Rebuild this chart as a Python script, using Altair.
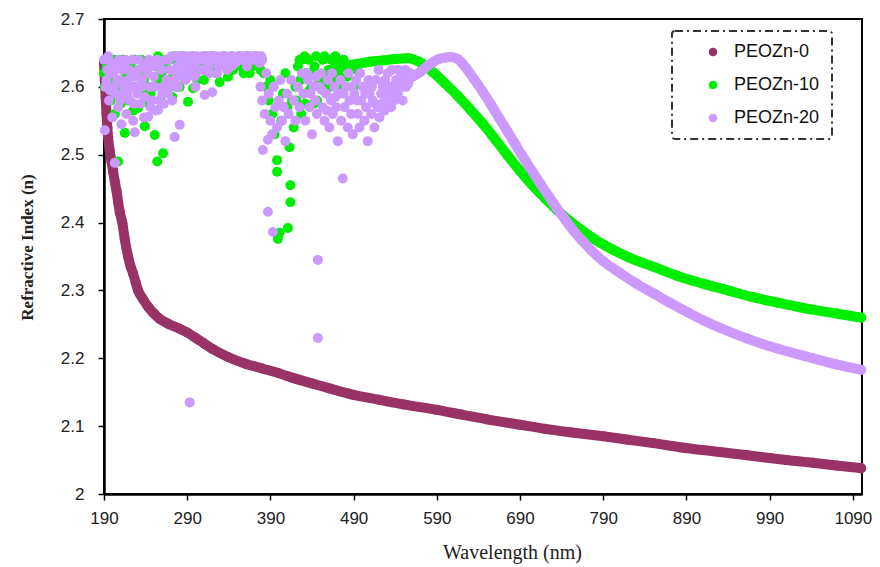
import altair as alt
import pandas as pd

SERIES = ["PEOZn-0", "PEOZn-10", "PEOZn-20"]
COLORS = ["#993366", "#00ee00", "#cc99ff"]

# ---- PEOZn-0 (continuous curve) ----
p0_wl = [190, 191, 192, 193, 194, 195, 197, 199, 201, 203, 205, 207, 209, 212, 215, 219,
         222, 225, 228, 231, 237, 243, 250, 257, 267, 280, 290, 299, 310, 320, 339, 360,
         380, 400, 420, 440, 460, 490, 520, 550, 590, 620, 650, 690, 720, 750, 790, 820,
         850, 882, 930, 963, 990, 1010, 1042, 1070, 1100]
p0_n = [2.635, 2.61, 2.585, 2.56, 2.54, 2.525, 2.505, 2.49, 2.475, 2.46, 2.447, 2.43, 2.415,
        2.40, 2.375, 2.35, 2.335, 2.325, 2.312, 2.30, 2.287, 2.276, 2.266, 2.258, 2.251, 2.244,
        2.238, 2.231, 2.222, 2.214, 2.202, 2.192, 2.185, 2.178, 2.170, 2.163, 2.156, 2.146, 2.139,
        2.132, 2.124, 2.117, 2.110, 2.102, 2.096, 2.091, 2.085, 2.080, 2.075, 2.069, 2.062, 2.057,
        2.053, 2.050, 2.046, 2.042, 2.038]

# ---- PEOZn-10 (continuous part) ----
p10_wl = [465, 480, 495, 510, 525, 540, 555, 570, 585, 600, 615, 630, 645, 660, 675, 690, 705,
          720, 735, 750, 765, 780, 800, 820, 850, 880, 910, 940, 970, 1000, 1040, 1070, 1100]
p10_n = [2.626, 2.631, 2.634, 2.637, 2.639, 2.641, 2.642, 2.636, 2.622, 2.605, 2.587, 2.567,
         2.546, 2.523, 2.499, 2.476, 2.455, 2.436, 2.418, 2.402, 2.388, 2.375, 2.361, 2.349,
         2.335, 2.321, 2.310, 2.300, 2.290, 2.282, 2.272, 2.266, 2.260]

# ---- PEOZn-10 (scattered short-wavelength points) ----
p10_scatter = [
    (190, 2.62), (191, 2.60), (193, 2.63), (196, 2.61), (198, 2.58), (200, 2.63), (203, 2.56),
    (205, 2.61), (207, 2.49), (208, 2.63), (210, 2.575), (212, 2.60), (215, 2.532), (216, 2.62),
    (219, 2.58), (222, 2.63), (225, 2.565), (228, 2.60), (231, 2.569), (233, 2.625), (236, 2.59),
    (239, 2.542), (241, 2.62), (244, 2.575), (247, 2.635), (249, 2.60), (251, 2.529), (254, 2.49),
    (256, 2.61), (258, 2.58), (261, 2.502), (263, 2.63), (266, 2.605), (269, 2.64), (272, 2.585),
    (275, 2.62), (278, 2.64), (281, 2.60), (284, 2.63), (287, 2.64), (291, 2.578), (294, 2.62),
    (297, 2.598), (300, 2.64), (303, 2.625), (306, 2.64), (310, 2.61), (314, 2.64), (318, 2.63),
    (322, 2.64), (325, 2.62), (329, 2.607), (333, 2.64), (337, 2.63), (341, 2.64), (345, 2.625),
    (350, 2.64), (355, 2.63), (360, 2.64), (365, 2.62), (370, 2.64), (375, 2.635), (380, 2.64),
    (195, 2.635), (202, 2.64), (213, 2.64), (218, 2.61), (224, 2.60), (227, 2.64), (235, 2.64),
    (238, 2.61), (243, 2.60), (246, 2.59), (252, 2.63), (255, 2.645), (259, 2.62), (262, 2.64),
    (268, 2.61), (274, 2.645), (277, 2.60), (283, 2.645), (289, 2.615), (292, 2.64), (296, 2.645),
    (302, 2.61), (308, 2.63), (312, 2.645), (316, 2.62), (320, 2.645), (327, 2.64), (335, 2.645),
    (339, 2.615), (343, 2.645), (348, 2.63), (352, 2.645), (358, 2.62), (362, 2.645), (368, 2.63),
    (372, 2.645), (378, 2.625),
    (382, 2.62), (385, 2.60), (388, 2.58), (390, 2.61), (392, 2.56), (395, 2.53), (398, 2.475),
    (398, 2.492), (399, 2.376), (401, 2.385), (403, 2.55), (405, 2.59), (408, 2.62), (410, 2.57),
    (411, 2.392), (413, 2.511), (414, 2.43), (414, 2.455), (416, 2.58), (418, 2.54), (420, 2.60),
    (423, 2.63), (426, 2.61), (428, 2.64), (430, 2.59), (433, 2.62), (436, 2.64), (440, 2.60),
    (443, 2.63), (446, 2.58), (450, 2.615), (453, 2.64), (456, 2.60), (460, 2.625), (463, 2.64),
    (466, 2.61), (470, 2.635), (475, 2.60), (482, 2.615), (490, 2.60),
    (425, 2.64), (431, 2.645), (438, 2.62), (445, 2.645), (448, 2.61), (455, 2.645), (458, 2.62),
    (462, 2.60), (468, 2.645), (472, 2.62), (478, 2.64), (486, 2.63), (494, 2.625),
    (421, 2.58), (427, 2.56), (432, 2.575), (437, 2.595), (442, 2.575),
]

# ---- PEOZn-20 (continuous part) ----
p20_wl = [561, 570, 578, 585, 592, 600, 607, 615, 625, 635, 645, 655, 665, 675, 685, 695, 705,
          715, 725, 735, 745, 755, 765, 775, 790, 810, 830, 850, 870, 891, 910, 930, 963, 1000,
          1042, 1070, 1100]
p20_n = [2.615, 2.622, 2.630, 2.636, 2.641, 2.643, 2.644, 2.641, 2.628, 2.611, 2.593, 2.574,
         2.554, 2.534, 2.514, 2.494, 2.475, 2.456, 2.438, 2.420, 2.403, 2.387, 2.373, 2.360,
         2.343, 2.326, 2.310, 2.296, 2.282, 2.268, 2.256, 2.245, 2.229, 2.214, 2.200, 2.191,
         2.183]

# ---- PEOZn-20 (scattered short-wavelength points) ----
p20_scatter = [
    (190, 2.64), (191, 2.536), (192, 2.60), (194, 2.625), (196, 2.58), (198, 2.62), (200, 2.555),
    (202, 2.60), (203, 2.488), (205, 2.63), (207, 2.57), (209, 2.61), (211, 2.545), (213, 2.59),
    (215, 2.63), (217, 2.56), (219, 2.61), (221, 2.58), (223, 2.62), (225, 2.55), (227, 2.533),
    (229, 2.60), (231, 2.625), (234, 2.575), (236, 2.61), (238, 2.555), (240, 2.63), (243, 2.556),
    (245, 2.60), (247, 2.58), (250, 2.615), (252, 2.565), (255, 2.566), (257, 2.63), (260, 2.59),
    (262, 2.575), (265, 2.61), (268, 2.64), (270, 2.60), (272, 2.58), (275, 2.526), (277, 2.62),
    (279, 2.60), (281, 2.544), (283, 2.64), (285, 2.625), (288, 2.61), (290, 2.64), (292, 2.62),
    (293, 2.135), (295, 2.64), (298, 2.63), (300, 2.60), (303, 2.64), (306, 2.625), (309, 2.64),
    (311, 2.588), (313, 2.64), (316, 2.63), (318, 2.64), (320, 2.592), (323, 2.64), (326, 2.62),
    (330, 2.64), (333, 2.635), (336, 2.64), (340, 2.64), (343, 2.63), (346, 2.64), (350, 2.64),
    (354, 2.64), (358, 2.64), (362, 2.63), (366, 2.64), (370, 2.64), (374, 2.64), (377, 2.635),
    (380, 2.64),
    (193, 2.61), (195, 2.645), (197, 2.595), (199, 2.635), (201, 2.62), (204, 2.59), (206, 2.61),
    (208, 2.64), (210, 2.58), (212, 2.625), (214, 2.60), (216, 2.64), (218, 2.59), (220, 2.625),
    (222, 2.60), (224, 2.64), (226, 2.575), (228, 2.615), (230, 2.59), (232, 2.64), (235, 2.60),
    (237, 2.63), (239, 2.585), (242, 2.62), (244, 2.64), (246, 2.57), (249, 2.63), (251, 2.60),
    (254, 2.64), (256, 2.58), (259, 2.625), (261, 2.60), (264, 2.64), (267, 2.59), (269, 2.625),
    (271, 2.645), (274, 2.61), (276, 2.645), (278, 2.63), (280, 2.645), (282, 2.615), (284, 2.645),
    (287, 2.645), (289, 2.63), (291, 2.645), (294, 2.625), (297, 2.645), (299, 2.615), (302, 2.645),
    (305, 2.64), (308, 2.645), (310, 2.625), (312, 2.645), (315, 2.645), (317, 2.62), (319, 2.645),
    (322, 2.645), (325, 2.645), (328, 2.63), (332, 2.645), (335, 2.645), (338, 2.625), (342, 2.645),
    (345, 2.645), (348, 2.635), (352, 2.645), (356, 2.645), (360, 2.645), (364, 2.645),
    (368, 2.645), (372, 2.645), (376, 2.645), (379, 2.645),
    (378, 2.60), (380, 2.58), (381, 2.507), (383, 2.56), (385, 2.62), (387, 2.416),
    (387, 2.522), (388, 2.59), (390, 2.55), (392, 2.53), (393, 2.386), (394, 2.60), (396, 2.57),
    (398, 2.54), (400, 2.58), (402, 2.61), (404, 2.55), (406, 2.57), (408, 2.52), (410, 2.59),
    (412, 2.56), (415, 2.61), (418, 2.58), (420, 2.55), (423, 2.60), (425, 2.57), (428, 2.62),
    (430, 2.59), (432, 2.55), (435, 2.61), (437, 2.57), (440, 2.53), (442, 2.60), (444, 2.58),
    (446, 2.56), (447, 2.345), (447, 2.23), (449, 2.60), (451, 2.62), (453, 2.57), (455, 2.55),
    (457, 2.59), (459, 2.61), (461, 2.54), (463, 2.58), (465, 2.56), (467, 2.60), (469, 2.57),
    (471, 2.52), (473, 2.59), (475, 2.55), (477, 2.465), (479, 2.57), (481, 2.60), (483, 2.54),
    (485, 2.58), (487, 2.56), (489, 2.53), (491, 2.59), (493, 2.61), (495, 2.56), (497, 2.54),
    (499, 2.58), (501, 2.60), (503, 2.55), (505, 2.57), (507, 2.52), (509, 2.59), (511, 2.56),
    (513, 2.58), (515, 2.54), (517, 2.61), (519, 2.57), (521, 2.555), (523, 2.59), (525, 2.60),
    (527, 2.565), (529, 2.58), (531, 2.62), (533, 2.59), (535, 2.57), (537, 2.60), (539, 2.58),
    (541, 2.61), (543, 2.59), (545, 2.60), (547, 2.62), (549, 2.58), (551, 2.61), (553, 2.60),
    (555, 2.62),
    (434, 2.62), (438, 2.59), (445, 2.615), (452, 2.595), (458, 2.565), (464, 2.62), (468, 2.585),
    (474, 2.61), (478, 2.59), (484, 2.62), (488, 2.60), (494, 2.58), (498, 2.62), (504, 2.59),
    (508, 2.61), (512, 2.60), (516, 2.575), (520, 2.625), (524, 2.575), (528, 2.61), (532, 2.60),
    (536, 2.625), (540, 2.60), (544, 2.625), (548, 2.60), (552, 2.625), (556, 2.605), (558, 2.62),
]

x_ticks = [190, 290, 390, 490, 590, 690, 790, 890, 990, 1090]
y_ticks = [2.0, 2.1, 2.2, 2.3, 2.4, 2.5, 2.6, 2.7]

# ---- build table ----
rows = []
for w, n in zip(p0_wl, p0_n):
    rows.append({"series": "PEOZn-0", "kind": "curve", "wl": w, "n": n})
for w, n in zip(p10_wl, p10_n):
    rows.append({"series": "PEOZn-10", "kind": "curve", "wl": w, "n": n})
for w, n in p10_scatter:
    rows.append({"series": "PEOZn-10", "kind": "scatter", "wl": w, "n": n})
for w, n in zip(p20_wl, p20_n):
    rows.append({"series": "PEOZn-20", "kind": "curve", "wl": w, "n": n})
for w, n in p20_scatter:
    rows.append({"series": "PEOZn-20", "kind": "scatter", "wl": w, "n": n})
df = pd.DataFrame(rows)

xscale = alt.Scale(domain=[190, 1101], nice=False, zero=False)
yscale = alt.Scale(domain=[2.0, 2.7], nice=False, zero=False)

x_axis = alt.Axis(values=x_ticks, title="Wavelength (nm)", grid=False, format="d",
                  titleFont="Liberation Serif", titleFontSize=20, titleFontWeight="normal",
                  titleColor="#222", titleX=408, titleY=64, titleAlign="center",
                  titleBaseline="alphabetic",
                  labelFont="Liberation Sans", labelFontSize=17, labelColor="#222",
                  labelPadding=10, labelFlush=False, labelOverlap=False,
                  tickSize=6, tickColor="black", tickWidth=1.5,
                  domainColor="black", domainWidth=2.5)
y_axis = alt.Axis(values=y_ticks, title="Refractive Index (n)", grid=False, format=".1~f",
                  titleFont="Liberation Serif", titleFontSize=17, titleFontWeight="bold",
                  titleColor="#222", titleX=-77, titleY=228, titleAngle=270,
                  titleAlign="center", titleBaseline="middle",
                  labelFont="Liberation Sans", labelFontSize=17, labelColor="#222",
                  labelPadding=14, labelFlush=False, labelOverlap=False,
                  tickSize=6, tickColor="black", tickWidth=1.5,
                  domainColor="black", domainWidth=2.5)

color = alt.Color("series:N",
                  scale=alt.Scale(domain=SERIES, range=COLORS),
                  legend=alt.Legend(title=None, orient="none", legendX=568, legendY=12,
                                    symbolType="circle", symbolSize=75, symbolStrokeWidth=0,
                                    symbolOffset=20, labelOffset=12,
                                    labelFont="Liberation Sans", labelFontSize=18,
                                    labelColor="#111", rowPadding=15))

layers = []
for s, c in zip(SERIES, COLORS):
    base = alt.Chart(df).transform_filter(alt.datum.series == s)
    line = base.transform_filter(alt.datum.kind == "curve").mark_line(
        strokeWidth=10, strokeCap="round", strokeJoin="round", color=c,
        interpolate="monotone"
    ).encode(
        x=alt.X("wl:Q", scale=xscale, axis=x_axis),
        y=alt.Y("n:Q", scale=yscale, axis=y_axis),
        order="wl:Q",
    )
    pts = base.mark_circle(size=100, opacity=1).encode(
        x=alt.X("wl:Q", scale=xscale, axis=x_axis),
        y=alt.Y("n:Q", scale=yscale, axis=y_axis),
        color=color,
    )
    layers += [line, pts]

chart = alt.layer(*layers).properties(
    width=758, height=475,
    padding={"left": 104, "top": 19, "right": 18, "bottom": 73},
    autosize=alt.AutoSizeParams(type="none"),
    background="white",
).configure_view(
    stroke="black", strokeWidth=2
).configure_legend(
    padding=12, strokeColor="#333", strokeDash=[8, 4, 2, 4], strokeWidth=2,
    cornerRadius=3, fillColor="white"
)

chart.save("out.html", embed_options={"renderer": "svg", "actions": False})
